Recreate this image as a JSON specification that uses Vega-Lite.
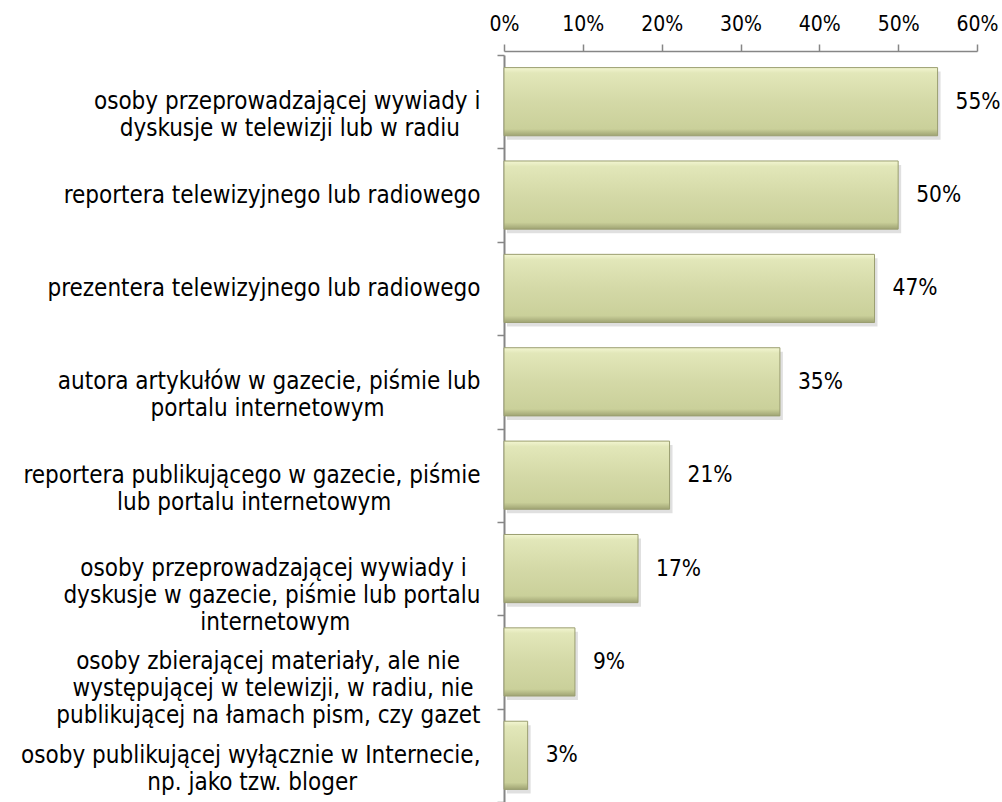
{
  "$schema": "https://vega.github.io/schema/vega-lite/v6.json",
  "autosize": {"type": "none"},
  "padding": {"left": 504, "top": 55, "right": 25, "bottom": 0},
  "width": 473,
  "height": 747,
  "background": "white",
  "config": {"view": {"stroke": null}, "font": "DejaVu Sans Condensed, DejaVu Sans"},
  "data": {
    "values": [
      {"category": "osoby przeprowadzającej wywiady i|dyskusje w telewizji lub w radiu\u00a0\u00a0\u00a0\u200b", "value": 55, "label": "55%"},
      {"category": "reportera telewizyjnego lub radiowego", "value": 50, "label": "50%"},
      {"category": "prezentera telewizyjnego lub radiowego", "value": 47, "label": "47%"},
      {"category": "autora artykułów w gazecie, piśmie lub|portalu internetowym\u00a0\u00a0\u00a0\u00a0\u00a0\u00a0\u00a0\u00a0\u00a0\u00a0\u00a0\u00a0\u00a0\u00a0\u200b", "value": 35, "label": "35%"},
      {"category": "reportera publikującego w gazecie, piśmie|lub portalu internetowym\u00a0\u00a0\u00a0\u00a0\u00a0\u00a0\u00a0\u00a0\u00a0\u00a0\u00a0\u00a0\u00a0\u200b", "value": 21, "label": "21%"},
      {"category": "osoby przeprowadzającej wywiady i\u00a0\u00a0\u200b|dyskusje w gazecie, piśmie lub portalu|internetowym\u00a0\u00a0\u00a0\u00a0\u00a0\u00a0\u00a0\u00a0\u00a0\u00a0\u00a0\u00a0\u00a0\u00a0\u00a0\u00a0\u00a0\u00a0\u00a0\u200b", "value": 17, "label": "17%"},
      {"category": "osoby zbierającej materiały, ale nie\u00a0\u00a0\u00a0\u200b|występującej w telewizji, w radiu, nie\u00a0\u200b|publikującej na łamach pism, czy gazet", "value": 9, "label": "9%"},
      {"category": "osoby publikującej wyłącznie w Internecie,|np. jako tzw. bloger\u00a0\u00a0\u00a0\u00a0\u00a0\u00a0\u00a0\u00a0\u00a0\u00a0\u00a0\u00a0\u00a0\u00a0\u00a0\u00a0\u00a0\u00a0\u200b", "value": 3, "label": "3%"}
    ]
  },
  "encoding": {
    "y": {
      "field": "category", "type": "nominal", "sort": null,
      "scale": {"paddingInner": 0, "paddingOuter": 0},
      "axis": {
        "title": null, "orient": "left",
        "labelExpr": "split(datum.label, '|')",
        "labelFontSize": 24, "labelColor": "#000000", "labelLineHeight": 27,
        "labelAlign": "right", "labelPadding": 17, "labelLimit": 600,
        "tickBand": "extent", "tickSize": 7, "tickColor": "#868686",
        "domainColor": "#868686", "domainWidth": 2, "tickWidth": 1.5
      }
    },
    "x": {
      "field": "value", "type": "quantitative",
      "scale": {"domain": [0, 60], "nice": false},
      "axis": {
        "title": null, "orient": "top", "values": [0, 10, 20, 30, 40, 50, 60],
        "labelExpr": "datum.value + '%'", "grid": false, "labelFlush": false,
        "labelFontSize": 21, "labelColor": "#000000", "labelPadding": 10,
        "tickSize": 7, "tickColor": "#868686", "domainColor": "#868686",
        "domainWidth": 1.5, "tickWidth": 1.5, "offset": 4
      }
    }
  },
  "layer": [
    {
      "mark": {"type": "bar", "height": {"band": 0.73}, "color": "#000000", "opacity": 0.12, "xOffset": 3, "yOffset": 4}
    },
    {
      "mark": {
        "type": "bar", "height": {"band": 0.73},
        "stroke": "#9a9e70", "strokeWidth": 1,
        "color": {
          "gradient": "linear", "x1": 0, "y1": 0, "x2": 0, "y2": 1,
          "stops": [
            {"offset": 0, "color": "#f3f6d2"},
            {"offset": 0.08, "color": "#e2e7b9"},
            {"offset": 0.5, "color": "#d4d9a7"},
            {"offset": 0.9, "color": "#cad09a"},
            {"offset": 1, "color": "#9fa373"}
          ]
        }
      }
    },
    {
      "mark": {"type": "text", "align": "left", "baseline": "middle", "dx": 18, "fontSize": 22.5, "color": "#000000"},
      "encoding": {"text": {"field": "label", "type": "nominal"}}
    }
  ]
}
